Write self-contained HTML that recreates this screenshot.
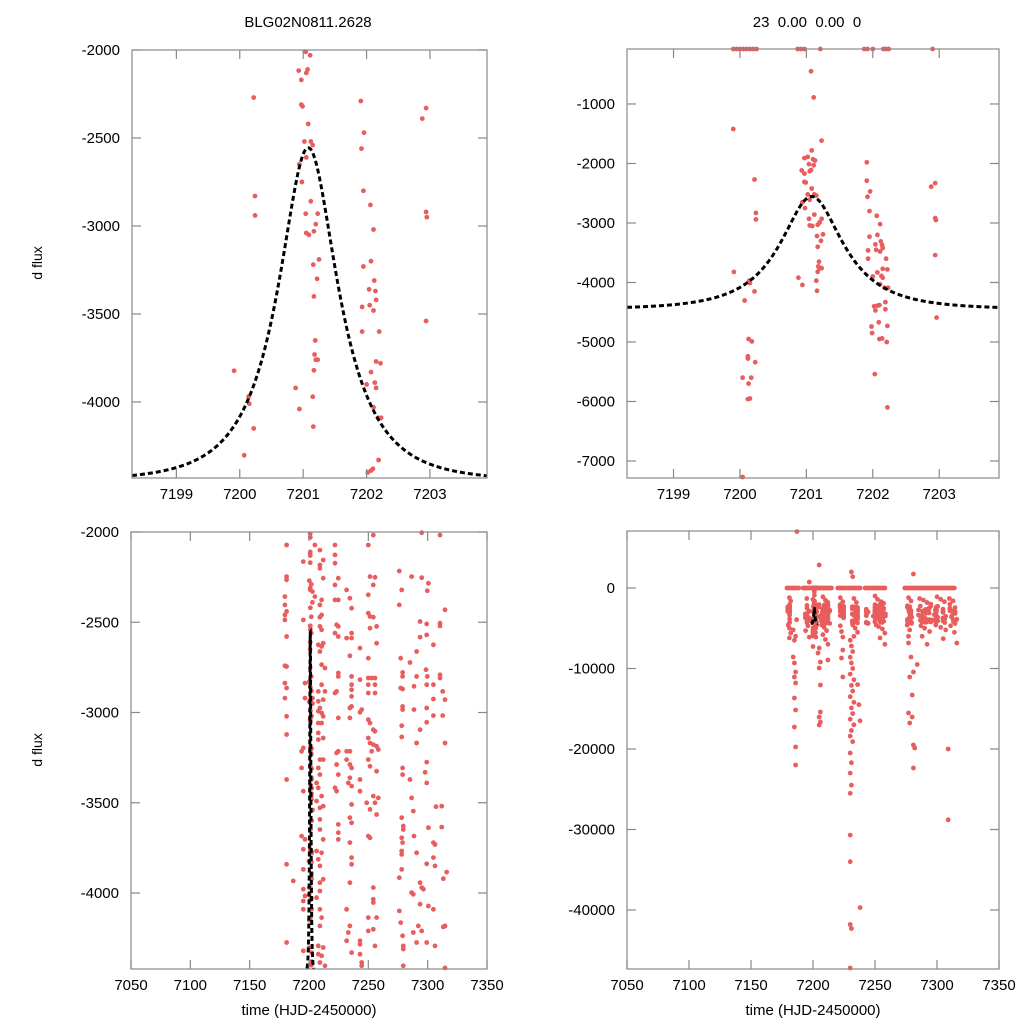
<!DOCTYPE html>
<html><head><meta charset="utf-8">
<style>
html,body{margin:0;padding:0;background:#fff;}
svg{display:block;font-family:"Liberation Sans",sans-serif;}
</style></head>
<body>
<svg id="chart" width="1024" height="1024" viewBox="0 0 1024 1024" xmlns="http://www.w3.org/2000/svg">
<rect width="1024" height="1024" fill="#fff"/>
<text x="308" y="27" font-size="15" text-anchor="middle">BLG02N0811.2628</text>
<text x="807" y="27" font-size="15" text-anchor="middle" xml:space="preserve">23  0.00  0.00  0</text>
<text x="42" y="263" font-size="14" text-anchor="middle" transform="rotate(-90 42 263)">d flux</text>
<text x="42" y="750" font-size="14" text-anchor="middle" transform="rotate(-90 42 750)">d flux</text>
<text x="309" y="1015" font-size="15" text-anchor="middle">time (HJD-2450000)</text>
<text x="813" y="1015" font-size="15" text-anchor="middle">time (HJD-2450000)</text>
</svg>
<script>
// ---- data: event window observations ----
const eventT = [7199.90,7199.91,7200.07,7200.14,7200.15,7200.22,7200.22,7200.24,7200.24,7200.13,7200.18,7200.12,7200.12,7200.23,7200.04,7200.17,7200.13,7200.12,7200.15,7200.04,
7201.23,7201.08,7200.97,7201.02,7201.10,7201.13,7201.04,7201.11,7201.07,7201.05,7200.93,7200.97,7200.97,7200.99,7201.08,7201.02,7201.12,7201.15,7201.05,7200.94,7200.98,7201.12,7201.04,7201.23,7201.20,7201.05,7201.09,7201.17,7201.16,7201.25,7201.22,7201.17,7201.19,7201.18,7201.20,7201.17,7201.23,7200.88,7200.94,7201.15,7201.16,7201.07,7201.11,
7201.91,7201.91,7201.92,7201.96,7201.95,7202.06,7202.11,7201.95,7202.07,7201.93,7201.93,7202.04,7202.05,7202.12,7202.15,7202.11,7202.14,7202.20,7202.15,7202.22,7202.07,7202.13,7202.15,7202.00,7202.11,7202.18,7202.23,7202.19,7202.02,7202.04,7202.07,7202.10,7202.19,7202.22,7201.98,7201.99,7202.09,7202.10,7202.14,7202.21,7202.03,7202.22,
7202.88,7202.94,7202.94,7202.95,7202.94,7202.96,
7199.90,7199.95,7200.00,7200.05,7200.10,7200.15,7200.20,7200.25,7200.87,7200.92,7200.97,7201.21,7201.87,7201.92,7202.00,7202.16,7202.20,7202.24,7202.90];
const eventF = [-1420,-3823,-4303,-3970,-4010,-4150,-2270,-2830,-2940,-4950,-4990,-5280,-5240,-5340,-5600,-5600,-5700,-5960,-5950,-7270,
-1615,-1780,-1910,-1890,-1930,-1950,-2010,-2030,-2110,-2130,-2117,-2170,-2310,-2320,-2420,-2520,-2520,-2540,-2610,-2650,-2750,-2860,-2930,-2930,-2990,-3040,-3050,-3030,-3220,-3190,-3300,-3400,-3650,-3730,-3760,-3820,-3760,-3920,-4040,-3970,-4140,-450,-890,
-1980,-2290,-2560,-2470,-2800,-2880,-3020,-3230,-3200,-3460,-3600,-3360,-3450,-3310,-3420,-3480,-3370,-3600,-3770,-3780,-3830,-3890,-3920,-3900,-4030,-4090,-4090,-4330,-4400,-4470,-4390,-4380,-4450,-4730,-4740,-4850,-4670,-4950,-4940,-5000,-5540,-6100,
-2390,-2330,-2920,-2950,-3540,-4590,
0,0,0,0,0,0,0,0,0,0,0,0,0,0,0,0,0,0,0];
// ---- data: season observations (band -2000..-4420) ----
const seasonT = [7181.1,7181.1,7181.1,7179.7,7179.7,7181.1,7179.7,7179.7,7181.1,7179.7,7181.1,7179.7,7181.1,7179.7,7181.1,7181.1,7181.1,7181.1,7181.1,
7205.0,7209.2,7195.2,7212.0,7209.2,7209.2,7212.0,7205.0,7210.6,7209.2,7195.2,7210.6,7209.2,7209.2,7210.6,7207.8,7210.6,7212.0,7209.2,7210.6,7213.5,7196.6,7210.6,7213.5,7207.8,7196.6,7207.8,7212.0,7209.2,7207.8,7210.6,7212.0,7207.8,7210.6,7207.8,7212.0,7207.8,7195.2,7193.8,7209.2,7212.0,7193.8,7207.8,7209.2,7195.2,7206.4,7207.8,7210.6,7206.4,7209.2,7212.0,7193.8,7196.6,7209.2,7209.2,7212.0,7195.2,7206.4,7210.6,7207.8,7209.2,7195.2,7186.8,7212.0,7209.2,7195.2,7209.2,7196.6,7206.4,7195.2,7195.2,7209.2,7210.6,7209.2,7207.8,7212.0,7207.8,7210.6,7195.2,7209.2,7213.5,
7221.9,7221.9,7221.9,7224.7,7221.9,7231.7,7221.9,7224.7,7234.5,7235.9,7223.3,7224.7,7221.9,7224.7,7231.7,7235.9,7235.9,7243.0,7234.5,7224.7,7224.7,7235.9,7243.0,7235.9,7235.9,7221.9,7223.3,7235.9,7235.9,7234.5,7244.4,7243.0,7224.7,7234.5,7224.7,7223.3,7231.7,7234.5,7231.7,7234.5,7235.9,7223.3,7224.7,7234.5,7233.1,7235.9,7221.9,7223.3,7243.0,7243.0,7235.9,7234.5,7235.9,7224.7,7224.7,7224.7,7234.5,7235.9,7235.9,7234.5,7231.7,7234.5,7233.1,7231.7,7235.9,7243.0,7243.0,7243.0,
7254.2,7250.0,7251.4,7255.6,7254.2,7250.0,7250.0,7251.4,7254.2,7251.4,7257.0,7257.0,7250.0,7250.0,7252.8,7255.6,7250.0,7255.6,7255.6,7250.0,7250.0,7251.4,7254.2,7255.6,7250.0,7251.4,7254.2,7257.0,7252.8,7258.4,7250.0,7251.4,7257.0,7248.6,7254.2,7255.6,7258.4,7251.4,7257.0,7250.0,7251.4,7254.2,7254.2,7254.2,7250.0,7257.0,7250.0,7254.2,7255.6,7244.4,7244.4,
7276.1,7278.1,7276.1,7277.3,7278.9,7278.9,7277.3,7278.9,7278.9,7278.9,7278.1,7278.1,7278.9,7278.9,7278.1,7279.5,7279.5,7278.1,7278.9,7278.1,7278.1,7278.1,7276.1,7276.1,7277.3,7278.9,7279.5,7279.5,7279.5,
7286.5,7295.0,7285.1,7290.7,7288.5,7288.5,7293.6,7290.7,7285.1,7286.5,7287.9,7288.5,7290.7,7286.5,7287.9,7293.6,7295.0,7296.4,7293.6,7287.9,7292.1,7290.7,7295.0,7295.0,
7300.6,7299.7,7314.6,7293.6,7299.2,7310.4,7310.4,7293.6,7299.2,7304.8,7290.7,7298.6,7299.7,7304.8,7310.4,7310.4,7312.7,7299.2,7304.8,7314.6,7299.2,7304.8,7299.2,7312.7,7314.6,7299.2,7297.8,7299.2,7307.0,7311.8,7300.6,7311.8,7304.8,7306.2,7304.8,7299.2,7306.2,7316.0,7313.2,7300.6,7304.8,7314.6,7313.2,7299.2,7306.2,7314.6,7310.4];
const seasonF = [-2072,-2247,-2265,-2358,-2404,-2440,-2459,-2487,-2579,-2741,-2745,-2837,-2864,-2920,-3021,-3122,-3371,-3841,-4274,
-2072,-2100,-2164,-2155,-2183,-2201,-2256,-2358,-2376,-2404,-2487,-2459,-2472,-2523,-2542,-2625,-2634,-2616,-2662,-2735,-2754,-2837,-2846,-2883,-2883,-2920,-2938,-2929,-2975,-2993,-3003,-3021,-3058,-3058,-3113,-3141,-3150,-3196,-3215,-3261,-3261,-3307,-3307,-3344,-3436,-3390,-3417,-3463,-3491,-3528,-3519,-3685,-3703,-3592,-3648,-3703,-3758,-3767,-3777,-3813,-3850,-3869,-3933,-3924,-3943,-3979,-3989,-4016,-4026,-4044,-4090,-4090,-4136,-4182,-4293,-4302,-4339,-4348,-4320,-4385,-4403,
-2072,-2127,-2173,-2256,-2293,-2321,-2376,-2376,-2367,-2422,-2514,-2523,-2560,-2579,-2588,-2560,-2588,-2643,-2686,-2781,-2800,-2800,-2818,-2846,-2874,-2892,-2883,-2911,-2966,-2975,-2984,-2999,-3030,-3030,-3215,-3224,-3215,-3215,-3261,-3288,-3307,-3288,-3344,-3362,-3390,-3408,-3417,-3436,-3371,-3436,-3509,-3583,-3611,-3620,-3666,-3703,-3721,-3804,-3841,-3943,-4090,-4182,-4219,-4265,-4330,-4265,-4284,-4339,
-2017,-2072,-2247,-2251,-2293,-2348,-2450,-2468,-2472,-2533,-2523,-2616,-2699,-2809,-2809,-2809,-2846,-2846,-2892,-2892,-3040,-3058,-3095,-3104,-3141,-3169,-3178,-3187,-3215,-3205,-3261,-3298,-3325,-3500,-3463,-3500,-3473,-3537,-3565,-3685,-3694,-3970,-4035,-4053,-4136,-4136,-4210,-4201,-4293,-4385,-4403,
-2216,-2321,-2404,-2699,-2778,-2800,-2864,-2870,-2966,-2984,-3073,-3135,-3307,-3344,-3583,-3629,-3648,-3694,-3721,-3767,-3786,-3869,-3915,-4099,-4164,-4237,-4293,-4311,-4403,
-2247,-2253,-2723,-2800,-2855,-2984,-3095,-3169,-3371,-3473,-3546,-3685,-3777,-3998,-4007,-3943,-3970,-3979,-4062,-4219,-4182,-4274,-4210,-2004,
-2284,-2326,-2431,-2496,-2509,-2505,-2520,-2582,-2570,-2625,-2662,-2763,-2800,-2846,-2791,-2809,-2883,-2846,-2925,-2929,-2975,-3017,-3054,-3017,-3169,-3275,-3331,-3390,-3522,-3519,-3638,-3635,-3721,-3731,-3804,-3838,-3850,-3884,-3921,-4072,-4090,-4182,-4188,-4274,-4293,-4415,-2017];
// ---- data: season observations outside the band ----
const extraT = [7184,7185,7186,7185,7186,7185,7186,7185,7186,7186,7184,7186,7185,
7205,7204,7206,7205,7206,7206,7205,7206,7205,7212,7224,7223,7224,
7230,7231,7232,7230,7231,7232,7230,7233,7231,7232,7230,7233,7231,7232,7230,7233,7231,7230,7232,7230,7231,7230,7231,7230,7230,7230,7230,7231,7230,7238,7236,7237,7238,
7277,7279,7281,7278,7280,7277,7280,7278,7281,7282,7281,7309,7309,7316,7292,7284,
7187,7205,7197,7281,7231,7232,
7181,7182,7180,7181,7182,7181,7195,7196,7194,7197,7208,7210,7212,7207,7209,7211,7208,7210,7212,7222,7224,7222,7223,7224,7233,7235,7232,7234,7236,7233,
7250,7252,7255,7257,7251,7253,7256,7258,7254,7258,7277,7279,7276,7278,7277,7286,7289,7292,7287,7290,7294,7288,7300,7303,7306,7310,7313,7299,7303,7307,7311,7314,7305];
const extraF = [-8570,-9320,-10430,-11060,-11800,-13660,-15160,-17270,-19750,-21990,-5200,-6000,-6500,
-7450,-8070,-9190,-9940,-12050,-15400,-16020,-16650,-17020,-8940,-7700,-8700,-11060,
-6500,-7200,-7900,-8600,-9300,-10000,-10700,-11400,-12100,-12800,-13500,-14200,-14900,-15600,-16300,-17000,-17700,-18400,-19100,-20500,-21700,-23000,-24500,-25500,-30700,-34000,-41800,-42300,-47200,-39700,-12000,-14500,-16500,
-6830,-8570,-10430,-11060,-13290,-15530,-16020,-16770,-19500,-19880,-22360,-28800,-20000,-6830,-7000,-9500,
7000,2860,750,1740,2000,1400,
-1200,-1600,-4600,-5000,-5600,-6200,-1300,-4700,-5300,-6100,-1100,-1500,-1800,-4600,-4900,-5300,-5800,-6400,-7000,-1200,-1700,-4700,-5400,-6100,-1300,-1800,-4600,-5000,-5500,-6000,
-1000,-1400,-1700,-1900,-4600,-4800,-5100,-5600,-6200,-7000,-1200,-1600,-4600,-5200,-6000,-1300,-1500,-1800,-4700,-5000,-5400,-6000,-1100,-1400,-1700,-1300,-1600,-4600,-4900,-5200,-4700,-5500,-6300];
// ---- data: zero-flux (flagged) observations ----
const zeroT = [7179,7180,7181.5,7183,7184,7185.5,7187,7188.5,7192,7193.2,7194.4,7195.6,7196.8,7198,7204,7205.2,7206.4,7207.6,7208.8,7210,7211.2,7212.4,7213.6,7214.8,
7220,7221.5,7223,7224.5,7226,7228,7229.5,7231,7232.5,7234,7235.5,7237,7238,
7242,7243.5,7245,7246.5,7248,7249.5,7251,7252.5,7254,7255.5,7257,7258,
7274,7275.5,7277,7278.5,7280,7281.5,7283,7284.5,7286,7287.5,7289,7290.5,7292,7293.5,7295,7296.5,7298,7299.5,7301,7302.5,7304,7305.5,7307,7308.5,7310,7311.5,7313,7314];
// ---- model parameters: t0, u0, tE, source flux, baseline ----
const modelParams = [7201.08, 0.5, 0.99, 1602, -4450];
// ---- tick labels ----
const ticksZoomX = [7199,7200,7201,7202,7203];
const ticksFullX = [7050,7100,7150,7200,7250,7300,7350];
const ticksTLY = [-2000,-2500,-3000,-3500,-4000];
const ticksTRY = [-1000,-2000,-3000,-4000,-5000,-6000,-7000];
const ticksBLY = [-2000,-2500,-3000,-3500,-4000];
const ticksBRY = [0,-10000,-20000,-30000,-40000];

const NS = 'http://www.w3.org/2000/svg';
const svg = document.getElementById('chart');
const allT = eventT.concat(seasonT, extraT, zeroT);
const allF = eventF.concat(seasonF, extraF, zeroT.map(() => 0));

function model(t) {
  const [t0, u0, tE, Fs, base] = modelParams;
  const d = (t - t0) / tE;
  const u = Math.sqrt(u0 * u0 + d * d);
  const A = (u * u + 2) / (u * Math.sqrt(u * u + 4));
  return base + Fs * (A - 1);
}
function mk(tag, attrs) {
  const e = document.createElementNS(NS, tag);
  for (const k in attrs) e.setAttribute(k, attrs[k]);
  return e;
}

const panels = [
  {id: 'top-left', x0: 132, x1: 487, y0: 50, y1: 478, xd: [7198.3, 7203.9], yd: [-2000, -4432], xt: ticksZoomX, yt: ticksTLY, clamp: false},
  {id: 'top-right', x0: 627, x1: 999, y0: 49, y1: 478, xd: [7198.3, 7203.9], yd: [-76, -7286], xt: ticksZoomX, yt: ticksTRY, clamp: true},
  {id: 'bottom-left', x0: 131, x1: 487, y0: 532, y1: 969, xd: [7050, 7350], yd: [-2000, -4421], xt: ticksFullX, yt: ticksBLY, clamp: false},
  {id: 'bottom-right', x0: 627, x1: 999, y0: 531, y1: 969, xd: [7050, 7350], yd: [7080, -47330], xt: ticksFullX, yt: ticksBRY, clamp: true}
];

panels.forEach(p => {
  const sx = t => p.x0 + (t - p.xd[0]) / (p.xd[1] - p.xd[0]) * (p.x1 - p.x0);
  const sy = f => p.y0 + (f - p.yd[0]) / (p.yd[1] - p.yd[0]) * (p.y1 - p.y0);
  const g = mk('g', {});
  
  
  svg.appendChild(g);
  const cid = 'clip-' + p.id;
  const cp = mk('clipPath', {id: cid});
  cp.appendChild(mk('rect', {x: p.x0 - 3, y: p.y0 - 3, width: p.x1 - p.x0 + 6, height: p.y1 - p.y0 + 6}));
  g.appendChild(cp);
  const pts = mk('g', {'clip-path': 'url(#' + cid + ')', fill: '#e85d5d'});
  
  
  g.appendChild(pts);
  for (let i = 0; i < allT.length; i++) {
    const t = allT[i];
    let f = allF[i];
    if (t < p.xd[0] || t > p.xd[1]) continue;
    let y = sy(f);
    if (p.clamp) y = Math.max(p.y0, Math.min(p.y1, y));
    else if (y < p.y0 - 3 || y > p.y1 + 3) continue;
    const c = mk('circle', {cx: sx(t).toFixed(1), cy: y.toFixed(1), r: 2.4});
    
    
    pts.appendChild(c);
  }
  // model curve
  let d = '';
  const n = 400;
  for (let k = 0; k <= n; k++) {
    const t = modelParams[0] - 2.78 + 5.6 * k / n;
    d += (k ? 'L' : 'M') + sx(t).toFixed(2) + ',' + sy(model(t)).toFixed(2);
  }
  const path = mk('path', {d: d, fill: 'none', stroke: '#000', 'stroke-width': 3, 'stroke-dasharray': '5,3', 'clip-path': 'url(#' + cid + ')'});
  
  
  g.appendChild(path);
  // frame
  const fr = mk('rect', {x: p.x0, y: p.y0, width: p.x1 - p.x0, height: p.y1 - p.y0, fill: 'none', stroke: '#888', 'stroke-width': 1.2});
  
  
  g.appendChild(fr);
  // x ticks
  p.xt.forEach(v => {
    const x = sx(v);
    g.appendChild(mk('line', {x1: x, x2: x, y1: p.y1, y2: p.y1 - 9, stroke: '#888', 'stroke-width': 1.2}));
    g.appendChild(mk('line', {x1: x, x2: x, y1: p.y0, y2: p.y0 + 9, stroke: '#888', 'stroke-width': 1.2}));
    const tx = mk('text', {x: x, y: p.y1 + 21, 'font-size': 15, 'text-anchor': 'middle'});
    
    
    tx.textContent = v;
    g.appendChild(tx);
  });
  // y ticks
  p.yt.forEach(v => {
    const y = sy(v);
    g.appendChild(mk('line', {x1: p.x0, x2: p.x0 + 9, y1: y, y2: y, stroke: '#888', 'stroke-width': 1.2}));
    g.appendChild(mk('line', {x1: p.x1, x2: p.x1 - 9, y1: y, y2: y, stroke: '#888', 'stroke-width': 1.2}));
    const ty = mk('text', {x: p.x0 - 12, y: y + 5, 'font-size': 15, 'text-anchor': 'end'});
    
    
    ty.textContent = v;
    g.appendChild(ty);
  });
});
</script>
</body></html>
